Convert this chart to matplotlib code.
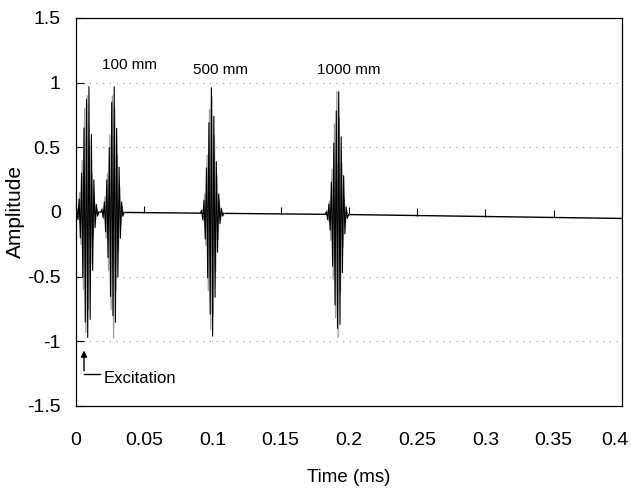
import matplotlib.pyplot as plt
import matplotlib.transforms as mtransforms
import numpy as np

plt.rcParams['font.family'] = ['Liberation Sans', 'DejaVu Sans']

# --- data ---
x_ticks = [0, 0.05, 0.1, 0.15, 0.2, 0.25, 0.3, 0.35, 0.4]
x_tick_labels = ['0', '0.05', '0.1', '0.15', '0.2', '0.25', '0.3', '0.35', '0.4']
y_ticks = [-1.5, -1, -0.5, 0, 0.5, 1, 1.5]
y_tick_labels = ['-1.5', '-1', '-0.5', '0', '0.5', '1', '1.5']
grid_levels = [-1, -0.5, 0.5, 1]

# slow drift of the trace / zero line across the record
baseline_t = [0.0, 0.2, 0.4]
baseline_v = [0.0, -0.02, -0.05]

# wave packets: start time (ms), half period (ms), successive peak values
half_period = 0.0009
packet_start = [0.0005, 0.019, 0.092, 0.1835]
packets_black = [
    [0.03, -0.06, 0.1, -0.2, 0.3, -0.5, 0.65, -0.85, 0.87, -0.97, 0.97, -0.83, 0.6, -0.45, 0.25, -0.12, 0.06, -0.03],
    [0.02, -0.04, 0.08, -0.15, 0.25, -0.35, 0.5, -0.65, 0.85, -0.8, 0.97, -0.85, 0.65, -0.5, 0.35, -0.2, 0.08, -0.03],
    [0.02, -0.05, 0.1, -0.2, 0.35, -0.5, 0.7, -0.78, 0.97, -0.95, 0.75, -0.65, 0.4, -0.3, 0.15, -0.08, 0.04, -0.02],
    [0.02, -0.04, 0.08, -0.12, 0.25, -0.4, 0.55, -0.7, 0.8, -0.88, 0.95, -0.85, 0.6, -0.45, 0.3, -0.15, 0.06, -0.03],
]
packets_grey = [
    [0.02, -0.05, 0.15, -0.25, 0.4, -0.6, 0.8, -0.93, 0.9, -0.75, 0.55, -0.4, 0.3, -0.2, 0.1, -0.05, 0.03, -0.02],
    [0.03, -0.05, 0.12, -0.2, 0.3, -0.45, 0.6, -0.75, 0.9, -0.97, 0.8, -0.6, 0.45, -0.3, 0.2, -0.1, 0.05, -0.02],
    [0.03, -0.06, 0.15, -0.25, 0.45, -0.6, 0.8, -0.9, 0.9, -0.8, 0.6, -0.45, 0.3, -0.2, 0.1, -0.05, 0.03, -0.02],
    [0.03, -0.05, 0.1, -0.2, 0.35, -0.5, 0.7, -0.8, 0.95, -0.95, 0.75, -0.6, 0.4, -0.25, 0.12, -0.06, 0.03, -0.01],
]
labels = ['100 mm', '500 mm', '1000 mm']
label_t = [0.0395, 0.106, 0.1995]
label_y = [1.14, 1.10, 1.10]

fig = plt.figure(figsize=(6.31, 4.99), dpi=100)
ax = fig.add_axes([0.1204, 0.1864, 0.8653, 0.7776])

# horizontal dotted grid
for g in grid_levels:
    ax.axhline(g, color='#9a9a9a', lw=0.8, ls=(0, (1, 5)), zorder=0)

# zero line (drifting slightly) with small upward ticks
ax.plot(baseline_t, baseline_v, color='black', lw=1.0, zorder=2)
tick_base = np.interp(x_ticks[1:], baseline_t, baseline_v)
ax.vlines(x_ticks[1:], tick_base, tick_base + 0.055, color='black', lw=0.8, zorder=1)


def packet_trace(start, peaks):
    t = [start - half_period] + [start + i * half_period for i in range(len(peaks))]
    t.append(t[-1] + half_period)
    v = [0.0] + list(peaks) + [0.0]
    drift = np.interp(t, baseline_t, baseline_v)
    return t, np.array(v) + drift


for s, pk in zip(packet_start, packets_grey):
    t, v = packet_trace(s + half_period / 2, pk)
    ax.plot(t, v, color='#9c9c9c', lw=0.9, zorder=3)
for s, pk in zip(packet_start, packets_black):
    t, v = packet_trace(s, pk)
    ax.plot(t, v, color='black', lw=0.8, zorder=4)

for lab, tx, ty in zip(labels, label_t, label_y):
    ax.text(tx, ty, lab, ha='center', va='center', fontsize=11)

# excitation marker
ax.annotate('', xy=(0.0059, -1.05), xytext=(0.0059, -1.25),
            arrowprops=dict(arrowstyle='-|>', color='black', lw=1.0, mutation_scale=9))
ax.plot([0.0059, 0.0175], [-1.25, -1.25], color='black', lw=1.0)
ax.text(0.0205, -1.29, 'Excitation', ha='left', va='center', fontsize=12)

ax.set_xlim(0, 0.4)
ax.set_ylim(-1.5, 1.5)
ax.set_xticks(x_ticks)
ax.set_xticklabels(x_tick_labels)
ax.set_yticks(y_ticks)
ax.set_yticklabels(y_tick_labels)
ax.tick_params(axis='x', length=0, pad=19, labelsize=14)
ax.tick_params(axis='y', direction='in', length=6, pad=11, labelsize=14)
for sp in ax.spines.values():
    sp.set_linewidth(0.9)

# pull the last x label inside the figure
last = ax.get_xticklabels()[-1]
last.set_transform(last.get_transform() + mtransforms.ScaledTranslation(-5 / 72, 0, fig.dpi_scale_trans))

ax.set_xlabel('Time (ms)', fontsize=13.5, labelpad=14)
ax.set_ylabel('Amplitude', fontsize=15)
ax.yaxis.set_label_coords(-0.093, 0.5)

fig.savefig('out.png', dpi=100)
